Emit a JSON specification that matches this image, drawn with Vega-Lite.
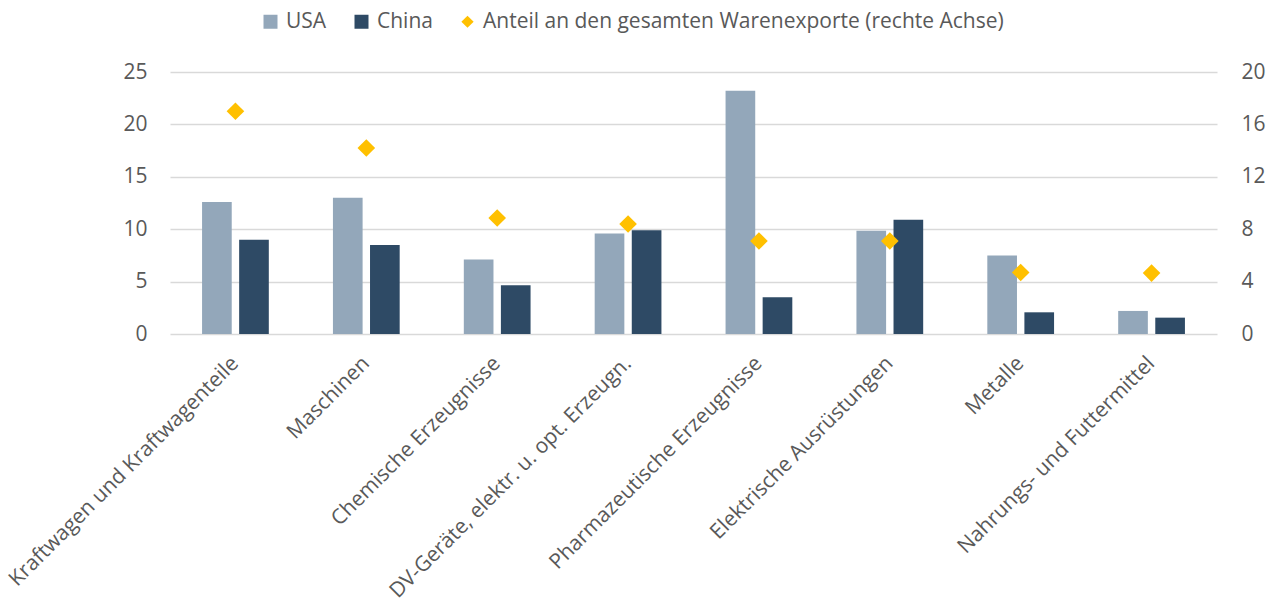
{
  "$schema": "https://vega.github.io/schema/vega-lite/v6.json",
  "autosize": {"type": "none"},
  "padding": {"left": 170, "top": 72, "right": 57, "bottom": 269},
  "width": 1047,
  "height": 262,
  "background": "white",
  "config": {
    "font": "Open Sans",
    "view": {"stroke": null},
    "axis": {"labelFont": "Open Sans", "labelColor": "#595959", "labelFontSize": 21}
  },
  "data": {
    "values": [
      {"category": "Kraftwagen und Kraftwagenteile", "series": "USA", "value": 12.6},
      {"category": "Kraftwagen und Kraftwagenteile", "series": "China", "value": 9.0},
      {"category": "Kraftwagen und Kraftwagenteile", "series": "Anteil an den gesamten Warenexporte (rechte Achse)", "value": 17.0},
      {"category": "Maschinen", "series": "USA", "value": 13.0},
      {"category": "Maschinen", "series": "China", "value": 8.5},
      {"category": "Maschinen", "series": "Anteil an den gesamten Warenexporte (rechte Achse)", "value": 14.2},
      {"category": "Chemische Erzeugnisse", "series": "USA", "value": 7.1},
      {"category": "Chemische Erzeugnisse", "series": "China", "value": 4.65},
      {"category": "Chemische Erzeugnisse", "series": "Anteil an den gesamten Warenexporte (rechte Achse)", "value": 8.85},
      {"category": "DV-Geräte, elektr. u. opt. Erzeugn.", "series": "USA", "value": 9.6},
      {"category": "DV-Geräte, elektr. u. opt. Erzeugn.", "series": "China", "value": 9.9},
      {"category": "DV-Geräte, elektr. u. opt. Erzeugn.", "series": "Anteil an den gesamten Warenexporte (rechte Achse)", "value": 8.4},
      {"category": "Pharmazeutische Erzeugnisse", "series": "USA", "value": 23.2},
      {"category": "Pharmazeutische Erzeugnisse", "series": "China", "value": 3.5},
      {"category": "Pharmazeutische Erzeugnisse", "series": "Anteil an den gesamten Warenexporte (rechte Achse)", "value": 7.1},
      {"category": "Elektrische Ausrüstungen", "series": "USA", "value": 9.85},
      {"category": "Elektrische Ausrüstungen", "series": "China", "value": 10.9},
      {"category": "Elektrische Ausrüstungen", "series": "Anteil an den gesamten Warenexporte (rechte Achse)", "value": 7.1},
      {"category": "Metalle", "series": "USA", "value": 7.5},
      {"category": "Metalle", "series": "China", "value": 2.07},
      {"category": "Metalle", "series": "Anteil an den gesamten Warenexporte (rechte Achse)", "value": 4.7},
      {"category": "Nahrungs- und Futtermittel", "series": "USA", "value": 2.2},
      {"category": "Nahrungs- und Futtermittel", "series": "China", "value": 1.56},
      {"category": "Nahrungs- und Futtermittel", "series": "Anteil an den gesamten Warenexporte (rechte Achse)", "value": 4.65}
    ]
  },
  "encoding": {
    "x": {
      "field": "category",
      "type": "nominal",
      "sort": null,
      "scale": {"paddingInner": 0.49, "paddingOuter": 0.245},
      "axis": {
        "title": null,
        "labelAngle": -45,
        "labelAlign": "right",
        "labelBaseline": "middle",
        "labelPadding": 26,
        "labelLimit": 0,
        "ticks": false,
        "domain": false
      }
    },
    "color": {
      "field": "series",
      "type": "nominal",
      "scale": {
        "domain": ["USA", "China", "Anteil an den gesamten Warenexporte (rechte Achse)"],
        "range": ["#93A7BA", "#2E4A65", "#FFC000"]
      },
      "legend": {
        "title": null,
        "orient": "none",
        "legendX": 90,
        "legendY": -61,
        "direction": "horizontal",
        "symbolType": "square",
        "symbolSize": 196,
        "symbolStrokeWidth": 0,
        "labelFontSize": 21,
        "labelFont": "Open Sans",
        "labelColor": "#595959",
        "labelLimit": 0,
        "labelOffset": 5,
        "columnPadding": 24,
        "encode": {
          "symbols": {
            "update": {
              "shape": {"signal": "datum.value === 'Anteil an den gesamten Warenexporte (rechte Achse)' ? 'diamond' : 'square'"},
              "size": {"signal": "datum.value === 'Anteil an den gesamten Warenexporte (rechte Achse)' ? 150 : 196"}
            }
          }
        }
      }
    }
  },
  "layer": [
    {
      "transform": [{"filter": "datum.series !== 'Anteil an den gesamten Warenexporte (rechte Achse)'"}],
      "mark": {"type": "bar"},
      "encoding": {
        "xOffset": {
          "field": "series",
          "type": "nominal",
          "scale": {"domain": ["USA", "China"], "paddingInner": 0.2, "paddingOuter": 0}
        },
        "y": {
          "field": "value",
          "type": "quantitative",
          "scale": {"domain": [0, 25], "nice": false},
          "axis": {
            "title": null,
            "values": [0, 5, 10, 15, 20, 25],
            "grid": true,
            "gridColor": "#D9D9D9",
            "gridWidth": 1.5,
            "domain": false,
            "ticks": false,
            "labelPadding": 23
          }
        }
      }
    },
    {
      "transform": [{"filter": "datum.series === 'Anteil an den gesamten Warenexporte (rechte Achse)'"}],
      "mark": {"type": "point", "shape": "diamond", "filled": true, "opacity": 1, "size": 310},
      "encoding": {
        "y": {
          "field": "value",
          "type": "quantitative",
          "scale": {"domain": [0, 20], "nice": false},
          "axis": {
            "title": null,
            "orient": "right",
            "values": [0, 4, 8, 12, 16, 20],
            "grid": false,
            "domain": false,
            "ticks": false,
            "labelPadding": 24
          }
        }
      }
    }
  ],
  "resolve": {"scale": {"y": "independent"}}
}
